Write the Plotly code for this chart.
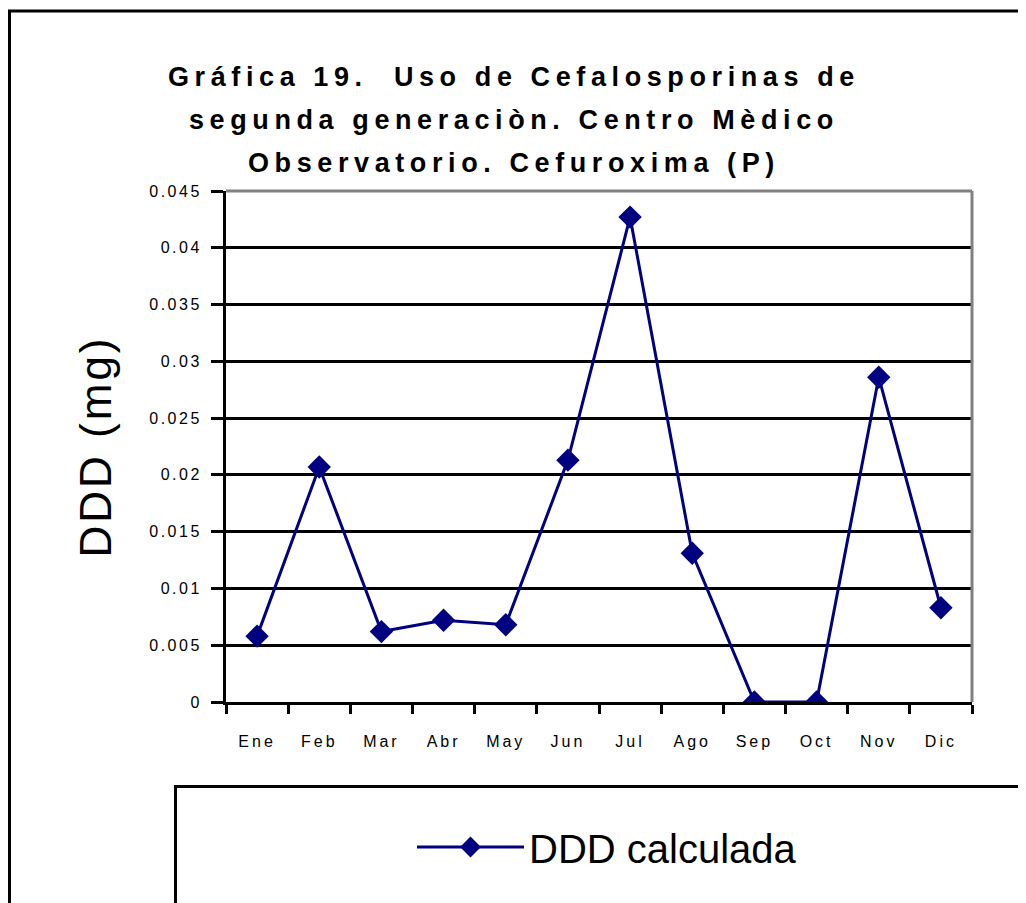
import plotly.graph_objects as go

months = ["Ene", "Feb", "Mar", "Abr", "May", "Jun", "Jul", "Ago", "Sep", "Oct", "Nov", "Dic"]
ddd_calculada = [0.0058, 0.0207, 0.0062, 0.0072, 0.0068, 0.0213, 0.0427, 0.0131, 0.0, 0.0, 0.0286, 0.0083]
y_ticks = [0, 0.005, 0.01, 0.015, 0.02, 0.025, 0.03, 0.035, 0.04, 0.045]
y_ticktext = ["0", "0.005", "0.01", "0.015", "0.02", "0.025", "0.03", "0.035", "0.04", "0.045"]
title_lines = ["Gráfica 19.  Uso de Cefalosporinas de",
               "segunda generaciòn. Centro Mèdico",
               "Observatorio. Cefuroxima (P)"]

OFF = 8  # page body margin
W, H = 1026, 903
L, T = 226 - OFF, 191 - OFF
R = W - (972 - OFF)
B = H - (702 - OFF)
pw, ph = W - L - R, H - T - B

def px_x(x):
    return (x - OFF - L) / pw

def px_y(y):
    return (H - B - (y - OFF)) / ph

def spaced(s, ls):
    return '<span style="letter-spacing:%spx">%s</span>' % (ls, s)

NAVY = "#000080"
FONT = "Liberation Sans, Arial, sans-serif"

fig = go.Figure()
fig.add_trace(go.Scatter(
    x=months, y=ddd_calculada, mode="lines+markers", name="DDD calculada",
    line=dict(color=NAVY, width=3),
    marker=dict(symbol="diamond", size=18, color=NAVY),
))

shapes = [
    dict(type="line", xref="paper", yref="paper", x0=0, x1=1, y0=1, y1=1,
         line=dict(color="#808080", width=3), layer="above"),
    dict(type="line", xref="paper", yref="paper", x0=1, x1=1, y0=0, y1=1,
         line=dict(color="#808080", width=3), layer="above"),
    dict(type="rect", xref="paper", yref="paper", x0=px_x(9.5), x1=px_x(1100),
         y0=px_y(1000), y1=px_y(11), line=dict(color="black", width=3),
         fillcolor="rgba(0,0,0,0)", layer="below"),
    dict(type="rect", xref="paper", yref="paper", x0=px_x(175.5), x1=px_x(1100),
         y0=px_y(1000), y1=px_y(786.5), line=dict(color="black", width=3),
         fillcolor="white", layer="above"),
]

annotations = []
for i, line in enumerate(title_lines):
    annotations.append(dict(
        text="<b>" + spaced(line, 5.6) + "</b>", xref="paper", yref="paper",
        x=px_x(514), y=px_y(77 + 43 * i), xanchor="center", yanchor="middle",
        showarrow=False, font=dict(family=FONT, size=27, color="black"),
    ))

fig.update_layout(
    width=W, height=H,
    margin=dict(l=L, r=R, t=T, b=B, autoexpand=False),
    paper_bgcolor="white", plot_bgcolor="white",
    shapes=shapes, annotations=annotations,
    showlegend=True,
    legend=dict(
        x=px_x(412), y=px_y(847), xanchor="left", yanchor="middle",
        bgcolor="rgba(0,0,0,0)", borderwidth=0, itemwidth=107,
        font=dict(family=FONT, size=40, color="black"),
    ),
    xaxis=dict(
        type="category", tickson="boundaries", ticks="outside", ticklen=9,
        tickwidth=3, tickcolor="black", showline=True, linecolor="black",
        linewidth=3, showgrid=False, range=[-0.5, 11.5],
        tickvals=months, ticktext=[spaced(m, 3) for m in months],
        tickfont=dict(family=FONT, size=16, color="black"),
        ticklabelstandoff=23,
    ),
    yaxis=dict(
        range=[0, 0.045], tickvals=y_ticks, ticktext=[spaced(t, 2.5) for t in y_ticktext],
        ticks="outside", ticklen=12, tickwidth=3, tickcolor="black",
        showline=True, linecolor="black", linewidth=3,
        showgrid=True, gridcolor="black", gridwidth=3, zeroline=False,
        tickfont=dict(family=FONT, size=16, color="black"),
        ticklabelstandoff=6,
        title=dict(text=spaced("DDD (mg)", 3), font=dict(family=FONT, size=44, color="black"),
                   standoff=24),
    ),
)

fig.write_html("out.html")
